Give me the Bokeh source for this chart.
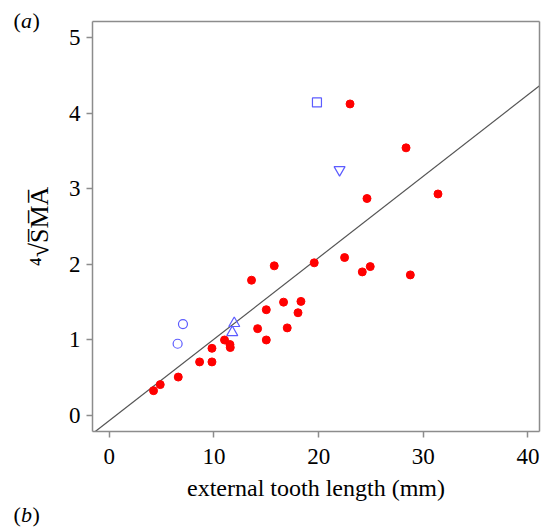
from bokeh.plotting import figure
from bokeh.models import FixedTicker, Label, LinearAxis
from bokeh.embed import file_html
from bokeh.resources import INLINE

# ---- data ----
red_x = [4.23, 4.87, 6.59, 8.63, 9.81, 9.81, 11.01, 11.53, 11.56, 14.17, 15.0, 15.0,
         13.59, 15.76, 19.58, 22.48, 24.17, 24.93, 16.65, 18.31, 18.03, 17.0, 23.0,
         28.35, 24.62, 31.40, 28.76]
red_y = [0.33, 0.41, 0.51, 0.71, 0.71, 0.89, 1.00, 0.94, 0.90, 1.15, 1.00, 1.40,
         1.79, 1.98, 2.02, 2.09, 1.90, 1.97, 1.50, 1.51, 1.36, 1.16, 4.12,
         3.54, 2.87, 2.93, 1.86]
circle_x = [7.04, 6.53]
circle_y = [1.21, 0.95]
tri_up_x = [11.94, 11.75]
tri_up_y = [1.22, 1.10]
square_x = [19.84]
square_y = [4.14]
tri_down_x = [22.0]
tri_down_y = [3.25]

reg_slope = 0.1077
reg_intercept = -0.066

x_ticks = [0, 10, 20, 30, 40]
y_ticks = [0, 1, 2, 3, 4, 5]

# plotting box (axis limits) and the whole canvas extent in data units
box_x = (-1.6, 41.1)
box_y = (-0.21, 5.21)
canvas_x = (-10.39, 41.29)
canvas_y = (-1.492, 5.4875)

FONT = "Liberation Serif"
GRAY = "#8c8c8c"
BLUE = "#5c5cff"

p = figure(width=541, height=528, x_range=canvas_x, y_range=canvas_y,
           output_backend="svg", toolbar_location=None, min_border=0)
p.grid.visible = False
p.outline_line_color = None
p.background_fill_color = "white"
p.border_fill_color = "white"

xa = p.xaxis[0]
ya = p.yaxis[0]
xa.fixed_location = box_y[0]
xa.bounds = box_x
ya.fixed_location = box_x[0]
ya.bounds = box_y

for ax in (xa, ya):
    ax.axis_line_color = GRAY
    ax.axis_line_width = 1.5
    ax.major_tick_line_color = GRAY
    ax.major_tick_line_width = 1.5
    ax.major_tick_in = 0
    ax.major_tick_out = 6
    ax.minor_tick_line_color = None
    ax.major_label_text_font = FONT
    ax.major_label_text_font_size = "23px"
    ax.major_label_text_color = "black"
    ax.axis_label_text_font = FONT
    ax.axis_label_text_font_style = "normal"
    ax.axis_label_text_color = "black"

xa.ticker = FixedTicker(ticks=x_ticks)
ya.ticker = FixedTicker(ticks=y_ticks)
xa.major_label_standoff = 11
ya.major_label_standoff = 6
xa.axis_label = "external tooth length (mm)"
xa.axis_label_text_font_size = "24px"
xa.axis_label_standoff = 8
ya.axis_label = "\u2074\u221aS\u0305M\u0305A\u0305"
ya.axis_label_text_font_size = "26px"
ya.axis_label_standoff = 12

# top and right edges of the box
top_ax = LinearAxis(fixed_location=box_y[1], bounds=box_x, ticker=FixedTicker(ticks=[]),
                    axis_line_color=GRAY, axis_line_width=1.5,
                    major_tick_line_color=None, minor_tick_line_color=None,
                    major_label_text_color=None)
right_ax = LinearAxis(fixed_location=box_x[1], bounds=box_y, ticker=FixedTicker(ticks=[]),
                      axis_line_color=GRAY, axis_line_width=1.5,
                      major_tick_line_color=None, minor_tick_line_color=None,
                      major_label_text_color=None)
p.add_layout(top_ax, "above")
p.add_layout(right_ax, "right")

# regression line, clipped to the box
x_start = (box_y[0] - reg_intercept) / reg_slope
x_end = box_x[1]
p.line([x_start, x_end], [reg_intercept + reg_slope * x_start, reg_intercept + reg_slope * x_end],
       line_color="#555555", line_width=1.2)

p.scatter(red_x, red_y, marker="circle", size=8, fill_color="#ff0000", line_color="#ff0000")
p.scatter(circle_x, circle_y, marker="circle", size=9, fill_color=None, line_color=BLUE, line_width=1.2)
p.scatter(tri_up_x, tri_up_y, marker="triangle", size=11, fill_color=None, line_color=BLUE, line_width=1.2)
p.scatter(square_x, square_y, marker="square", size=9, fill_color=None, line_color=BLUE, line_width=1.2)
p.scatter(tri_down_x, tri_down_y, marker="inverted_triangle", size=11, fill_color=None, line_color=BLUE, line_width=1.2)

def panel_label(letter, y):
    parts = [("(", 0, "normal"), (letter, 7.5, "italic"), (")", 19, "normal")]
    for t, off, style in parts:
        p.add_layout(Label(x=-9.15, y=y, x_offset=off, text=t, text_font=FONT,
                           text_font_size="22px", text_font_style=style,
                           text_color="black", text_baseline="alphabetic"))

panel_label("a", 5.225)
panel_label("b", -1.31)

open("out.html", "w").write(file_html(p, INLINE))
